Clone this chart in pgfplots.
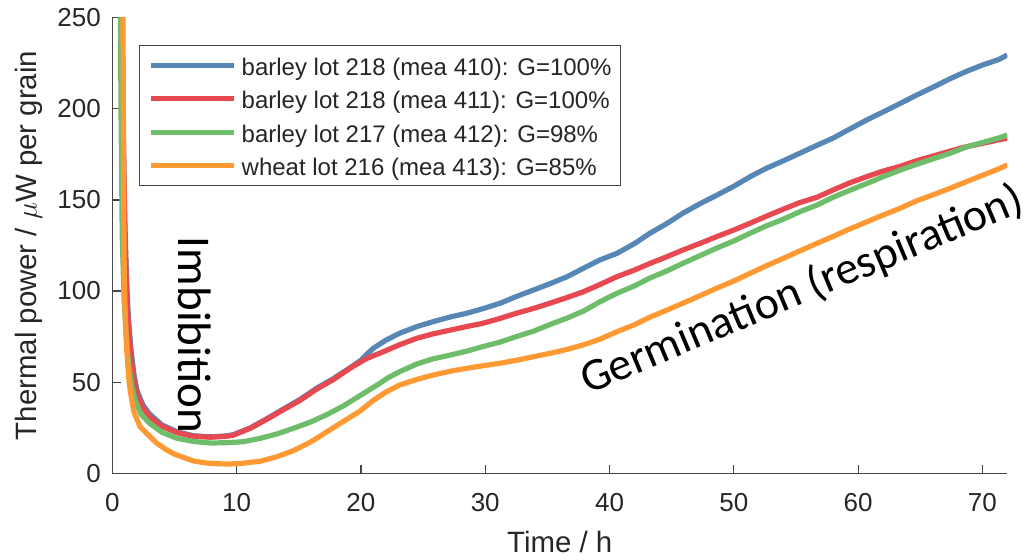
\documentclass[border=0pt]{standalone}
\usepackage{fontspec}
\setmainfont{Liberation Sans}
\newfontfamily\notefont{Carlito}
\usepackage{pgfplots}
\pgfplotsset{compat=1.18}

\definecolor{c410}{RGB}{86,135,181}
\definecolor{c411}{RGB}{232,72,80}
\definecolor{c412}{RGB}{110,189,106}
\definecolor{c413}{RGB}{255,153,51}
\definecolor{axgray}{RGB}{70,70,70}
\definecolor{txt}{RGB}{38,38,38}

\begin{document}
\begin{tikzpicture}
\begin{axis}[
  at={(56.15pt,43.35pt)}, anchor=south west,
  scale only axis, width=447.5pt, height=227.8pt,
  xmin=0, xmax=72, ymin=0, ymax=250,
  clip mode=individual,
  axis x line=bottom, axis y line=left,
  axis line style={-, axgray, line width=0.6pt},
  tick align=inside,
  major tick length=4.3pt,
  tick style={axgray, line width=0.6pt},
  xtick={0,10,...,70}, ytick={0,50,...,250},
  ticklabel style={font=\fontsize{13}{15}\selectfont, text=txt},
  /pgf/number format/assume math mode=true,
  xticklabel style={yshift=-6.5pt},
  yticklabel style={xshift=-2.2pt},
  xlabel={Time / h},
  ylabel={Thermal power / $\mu$W per grain},
  label style={font=\fontsize{14.7}{17}\selectfont, text=txt},
  xlabel style={at={(axis description cs:0.5,-0.1743)}, anchor=base},
  ylabel style={at={(axis description cs:-0.0845,0.5)}, anchor=base},
  legend cell align=left,
  legend style={at={(axis description cs:0.02983,0.9401)}, anchor=north west,
    draw=axgray, line width=0.5pt, fill=white,
    inner xsep=4.5pt, inner ysep=4pt, row sep=4.67pt, column sep=2.5pt,
    font=\fontsize{12}{14}\selectfont, text=txt,
    nodes={inner sep=0pt, text height=11pt, text depth=1pt}},
  legend image code/.code={\draw[#1, line width=2.6pt] (0pt,0pt) -- (41.5pt,0pt);},
]
% barley lot 218, measurement 410
\addplot[c410, line width=2.6pt, line join=round] coordinates {
(0.68,300)(0.85,200)(1.0,140)(1.15,105)(1.3,85)(1.5,68)(1.75,54)(2.0,45)(2.5,37)
(3.0,32.5)(4.0,26.5)(5.2,22.8)(6.5,20.6)(7.9,20)(9.0,20.4)(9.7,21.1)(11.1,24.9)
(12.4,29.8)(13.8,35.4)(15.1,40.5)(16.4,46.5)(17.8,52)(19.1,57.8)(20.0,62)(20.5,65.5)
(21.0,68.6)(22.0,73)(23.1,76.8)(24.5,80.5)(25.8,83.2)(27.2,85.8)(28.5,87.8)(29.8,90.3)
(31.2,93.3)(32.5,97)(33.9,100.6)(35.2,104)(36.6,107.9)(37.9,112.5)(39.2,117)(40.6,120.7)
(42,126)(43.2,131.5)(44.6,137)(45.9,142.7)(47.3,148)(48.6,152.5)(50,157.5)(51.3,162.7)
(52.6,167.3)(54,171.5)(55.3,175.6)(56.7,180)(58,184)(59.3,188.8)(60.7,193.9)(62,198.2)
(63.4,203)(64.7,207.5)(66.1,212.1)(67.4,216.5)(68.7,220.5)(70,224)(71.3,227)(72,229.5)
};
\addlegendentry{barley lot 218 (mea 410): G=100\%}
% barley lot 218, measurement 411
\addplot[c411, line width=2.6pt, line join=round] coordinates {
(0.68,300)(0.85,200)(1.0,135)(1.15,100)(1.3,80)(1.5,64)(1.75,51)(2.0,43)(2.5,35.5)
(3.0,31)(4.0,25.8)(5.2,22.3)(6.5,20.3)(7.9,19.8)(9.0,20.2)(9.7,20.8)(11.1,24.7)
(12.4,29.5)(13.8,35)(15.1,40)(16.4,46)(17.8,51.5)(19.1,57.5)(20.4,62.8)(21.8,66.7)
(23.1,70.5)(24.5,74.1)(25.8,76.5)(27.2,78.6)(28.5,80.5)(29.8,82.3)(31.2,85)(32.5,87.8)
(33.9,90.5)(35.2,93.3)(36.6,96.5)(37.9,99.6)(39.2,103.5)(40.6,107.9)(42,111.5)(43.2,115)
(44.6,118.8)(45.9,122.5)(47.3,126.2)(48.6,129.8)(50,133.5)(51.3,137.2)(52.6,141)(54,145)
(55.3,148.5)(56.7,151.5)(58,155.5)(59.3,159.3)(60.7,162.8)(62,165.8)(63.4,168.5)
(64.7,171.5)(66.1,174.2)(67.4,176.8)(68.7,179.2)(70,181)(71.3,183)(72,183.8)
};
\addlegendentry{barley lot 218 (mea 411): G=100\%}
% barley lot 217, measurement 412
\addplot[c412, line width=2.6pt, line join=round] coordinates {
(0.62,300)(0.7,200)(0.8,130)(0.95,95)(1.15,72)(1.35,58)(1.6,47)(1.83,40.2)(2.3,32.5)
(3.0,27.4)(4.0,22.5)(5.2,19.2)(6.5,17.5)(7.9,16.6)(9.2,16.8)(10.5,17.3)(11.8,19)
(13.2,21.5)(14.5,24.5)(15.9,28)(17.2,32)(18.6,37)(19.9,42.5)(21.3,48.4)(22.2,52.5)
(23.1,55.7)(24.5,60)(25.8,62.8)(27.2,64.9)(28.5,67)(29.8,69.5)(31.2,72)(32.5,75)
(33.9,78)(35.2,81.6)(36.6,85.2)(37.9,89)(39.2,94)(40.6,98.8)(42,102.8)(43.2,107)
(44.6,111)(45.9,115.2)(47.3,119.5)(48.6,123.5)(50,127.5)(51.3,131.7)(52.6,135.7)
(54,139.5)(55.3,143.5)(56.7,147.2)(58,151.5)(59.3,155.2)(60.7,159)(62,162.7)(63.4,166.4)
(64.7,169.5)(66.1,172.7)(67.4,175.6)(68.7,179)(70,181.5)(71.3,184)(72,185.6)
};
\addlegendentry{barley lot 217 (mea 412): G=98\%}
% wheat lot 216, measurement 413
\addplot[c413, line width=2.6pt, line join=round] coordinates {
(0.8,300)(0.86,250)(0.89,200)(0.92,150)(0.96,110)(1.02,90)(1.16,67.7)(1.35,50)
(1.56,40.2)(1.75,33.5)(2.23,25.6)(2.77,21.9)(3.57,16.5)(4.38,12.8)(5.0,10.5)(5.7,8.8)
(6.5,6.8)(7.6,5.6)(8.5,5.2)(9.5,5.1)(10.5,5.5)(11.1,6)(11.9,6.6)(13.2,9)(14.6,12.5)
(15.9,17)(16.4,19)(17.2,22.5)(18.6,28.5)(19.9,34)(21.0,40)(22,44.5)(23.1,48.4)
(24.5,51.5)(25.8,53.9)(27.2,56)(28.5,57.6)(29.8,59)(31.2,60.4)(32.5,62)(33.9,64)
(35.2,65.8)(36.6,68)(37.9,70.5)(39.2,73.5)(40.6,77.7)(42,81.5)(43.2,85.5)(44.6,89.5)
(45.9,93.3)(47.3,97.5)(48.6,101.5)(50,105.5)(51.3,109.7)(52.6,113.8)(54,118)(55.3,122)
(56.7,126.2)(58,130)(59.3,134)(60.7,138)(62,141.7)(63.4,145.5)(64.7,149.5)(66.1,153)
(67.4,156.4)(68.7,160)(70,163.5)(71.3,167)(72,169.2)
};
\addlegendentry{wheat lot 216 (mea 413): G=85\%}

% phase annotations
\node[font=\notefont\fontsize{23.5}{26}\selectfont, rotate=-90, anchor=base]
  at (axis cs:5.29,75.9) {Imbibition};
\node[font=\notefont\fontsize{23}{26}\selectfont, rotate=22.8, anchor=base]
  at (axis cs:55.9,93.8) {Germination (respiration)};
\end{axis}
\pgfresetboundingbox
\useasboundingbox (0,0) rectangle (514.5pt,280pt);
\end{tikzpicture}
\end{document}
